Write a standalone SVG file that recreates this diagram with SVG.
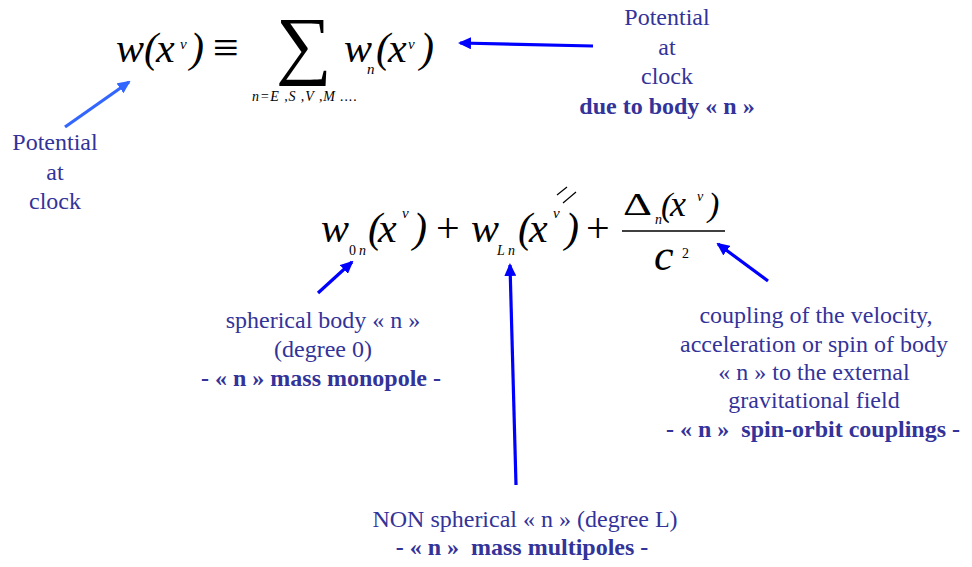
<svg xmlns="http://www.w3.org/2000/svg" width="972" height="567" viewBox="0 0 972 567">
<style>
text{font-family:"Liberation Serif",Tinos,"Times New Roman",Times,"DejaVu Serif",serif}
.m{font-style:italic;fill:#000}
.r{fill:#000}
.lbl{font-size:24px;fill:#333399;text-anchor:middle}
.b{font-weight:bold}
.arr{stroke-width:3.2;fill:none}
</style>
<defs>
<marker id="hb" markerUnits="userSpaceOnUse" viewBox="0 0 13 12" refX="11" refY="6" markerWidth="13" markerHeight="12" orient="auto"><path d="M0,0 L13,6 L0,12 z" fill="#0000FF"/></marker>
<marker id="hl" markerUnits="userSpaceOnUse" viewBox="0 0 13 12" refX="11" refY="6" markerWidth="13" markerHeight="12" orient="auto"><path d="M0,0 L13,6 L0,12 z" fill="#3366FF"/></marker>
</defs>
<rect width="972" height="567" fill="#fff"/>

<g id="eq1">
<text class="m" x="116" y="62" font-size="42">w</text>
<text class="m" x="144" y="62" font-size="42">(</text>
<text class="m" x="156" y="62" font-size="42">x</text>
<text class="m" x="180" y="49" font-size="15">ν</text>
<text class="m" x="190" y="62" font-size="42">)</text>
<text class="r" x="213" y="63" font-size="46">≡</text>
<text class="r" x="276" y="70" font-size="76" textLength="56" lengthAdjust="spacingAndGlyphs">∑</text>
<text class="m" x="344" y="62" font-size="42">w</text>
<text class="m" x="367" y="74" font-size="15">n</text>
<text class="m" x="376" y="62" font-size="42">(</text>
<text class="m" x="388" y="62" font-size="42">x</text>
<text class="m" x="408" y="49" font-size="15">ν</text>
<text class="m" x="420" y="62" font-size="42">)</text>
<text class="m" x="252" y="101" font-size="14" textLength="105" lengthAdjust="spacing">n=E ,S ,V ,M ....</text>
</g>

<g id="eq2">
<text class="m" x="321" y="242" font-size="42">w</text>
<text class="r" x="349" y="255" font-size="14">0</text>
<text class="m" x="359" y="255" font-size="14">n</text>
<text class="m" x="368" y="242" font-size="42">(</text>
<text class="m" x="378" y="242" font-size="42">x</text>
<text class="m" x="402" y="218" font-size="15">ν</text>
<text class="m" x="413" y="242" font-size="42">)</text>
<text class="r" x="436" y="242" font-size="42">+</text>
<text class="m" x="471" y="242" font-size="42">w</text>
<text class="m" x="497" y="255" font-size="14">L</text>
<text class="m" x="508" y="255" font-size="14">n</text>
<text class="m" x="518" y="242" font-size="42">(</text>
<text class="m" x="529" y="242" font-size="42">x</text>
<text class="m" x="553" y="218" font-size="15">ν</text>
<line x1="557" y1="195" x2="567" y2="187" stroke="#000" stroke-width="1.2"/>
<line x1="563" y1="203" x2="576" y2="192" stroke="#000" stroke-width="1.2"/>
<text class="m" x="565" y="242" font-size="42">)</text>
<text class="r" x="586" y="242" font-size="42">+</text>
<line x1="622" y1="231" x2="725" y2="231" stroke="#000" stroke-width="1.5"/>
<text class="r" x="623" y="215" font-size="31" textLength="29" lengthAdjust="spacingAndGlyphs">Δ</text>
<text class="m" x="655" y="224" font-size="14">n</text>
<text class="m" x="661" y="216" font-size="34">(</text>
<text class="m" x="670" y="216" font-size="36">x</text>
<text class="m" x="697" y="201" font-size="14">ν</text>
<text class="m" x="708" y="216" font-size="34">)</text>
<text class="m" x="654" y="270" font-size="44">c</text>
<text class="r" x="682" y="258" font-size="14">2</text>
</g>

<g id="label-left">
<text class="lbl" x="55" y="150">Potential</text>
<text class="lbl" x="55" y="180">at</text>
<text class="lbl" x="55" y="209">clock</text>
</g>
<g id="label-top">
<text class="lbl" x="667" y="25">Potential</text>
<text class="lbl" x="667" y="55">at</text>
<text class="lbl" x="667" y="84">clock</text>
<text class="lbl b" x="667" y="114">due to body « n »</text>
</g>
<g id="label-mono">
<text class="lbl" x="323" y="328">spherical body « n »</text>
<text class="lbl" x="323" y="357">(degree 0)</text>
<text class="lbl b" x="321" y="386">- « n » mass monopole -</text>
</g>
<g id="label-spin">
<text class="lbl" x="816" y="323">coupling of the velocity,</text>
<text class="lbl" x="814" y="352">acceleration or spin of body</text>
<text class="lbl" x="814" y="380">« n » to the external</text>
<text class="lbl" x="814" y="408">gravitational field</text>
<text class="lbl b" x="813" y="437" xml:space="preserve">- « n »  spin-orbit couplings -</text>
</g>
<g id="label-multi">
<text class="lbl" x="525" y="527">NON spherical « n » (degree L)</text>
<text class="lbl b" x="522" y="555" xml:space="preserve">- « n »  mass multipoles -</text>
</g>

<g id="connectors">
<line class="arr" x1="65" y1="127" x2="129" y2="82" stroke="#3366FF" marker-end="url(#hl)"/>
<line class="arr" x1="593" y1="46" x2="460" y2="43" stroke="#0000FF" marker-end="url(#hb)"/>
<line class="arr" x1="318" y1="293" x2="352" y2="262" stroke="#0000FF" marker-end="url(#hb)"/>
<line class="arr" x1="516" y1="485" x2="510" y2="265" stroke="#0000FF" marker-end="url(#hb)"/>
<line class="arr" x1="768" y1="281" x2="718" y2="244" stroke="#0000FF" marker-end="url(#hb)"/>
</g>
</svg>
